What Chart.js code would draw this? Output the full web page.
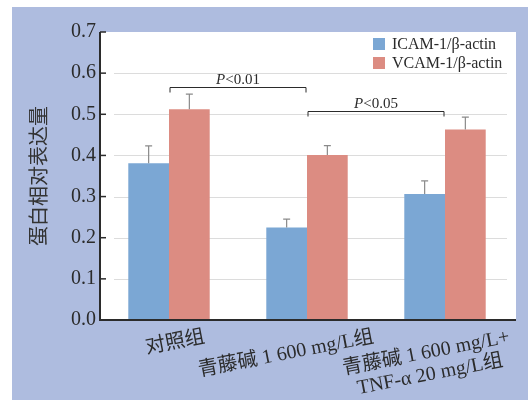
<!DOCTYPE html>
<html>
<head>
<meta charset="utf-8">
<script src="https://cdn.jsdelivr.net/npm/chart.js@4.4.0/dist/chart.umd.min.js"></script>
<style>
  html, body { margin: 0; padding: 0; background: #fff; }
  #wrap { width: 528px; height: 400px; position: relative; }
</style>
</head>
<body>
<div id="wrap"><canvas id="proteinChart"></canvas></div>
<script>
// groups (multi-line labels as arrays)
var groups = [['对照组'], ['青藤碱 1 600 mg/L组'], ['青藤碱 1 600 mg/L+', 'TNF-α 20 mg/L组']];
var seriesNames = ['ICAM-1/β-actin', 'VCAM-1/β-actin'];
var icam = [0.381, 0.225, 0.306];
var icamErr = [0.042, 0.020, 0.032];
var vcam = [0.512, 0.401, 0.463];
var vcamErr = [0.037, 0.023, 0.030];
var yMax = 0.7;
var yStep = 0.1;
// significance brackets
var compPairs = [[0, 1], [1, 2]];
var compLevels = [0.566, 0.508];
var compText = ['<0.01', '<0.05'];

var colors = ['#7ba7d4', '#dc8c82'];
var errs = [icamErr, vcamErr];
var ink = '#2b2b2b';
var serif = "'Liberation Serif', 'Noto Sans CJK SC', serif";

var decor = {
    id: 'decor',
    beforeDraw: function(chart) {
        var ctx = chart.ctx, ca = chart.chartArea, y = chart.scales.y;
        ctx.save();
        ctx.fillStyle = '#fff';
        ctx.fillRect(0, 0, chart.width, chart.height);
        ctx.fillStyle = '#aebcdf';
        ctx.fillRect(12, 7, chart.width - 12, chart.height - 7);
        ctx.fillStyle = '#fff';
        ctx.fillRect(ca.left, ca.top, ca.right - ca.left + 2, ca.bottom - ca.top);
        // grid lines
        ctx.strokeStyle = '#dcdcdc';
        ctx.lineWidth = 1;
        y.ticks.forEach(function(t) {
            if (t.value <= 0 || t.value >= yMax - 1e-9) return;
            var py = Math.round(y.getPixelForValue(t.value)) + 0.5;
            ctx.beginPath();
            ctx.moveTo(ca.left + 14, py);
            ctx.lineTo(ca.right - 7, py);
            ctx.stroke();
        });
        ctx.restore();
    },
    afterDatasetsDraw: function(chart) {
        var ctx = chart.ctx, ca = chart.chartArea, x = chart.scales.x, y = chart.scales.y;
        ctx.save();

        // error bars
        ctx.strokeStyle = '#8a8a8a';
        ctx.lineWidth = 1.2;
        chart.data.datasets.forEach(function(ds, d) {
            var meta = chart.getDatasetMeta(d);
            meta.data.forEach(function(bar, i) {
                var top = y.getPixelForValue(ds.data[i] + errs[d][i]);
                ctx.beginPath();
                ctx.moveTo(bar.x, bar.y);
                ctx.lineTo(bar.x, top);
                ctx.moveTo(bar.x - 3.5, top);
                ctx.lineTo(bar.x + 3.5, top);
                ctx.stroke();
            });
        });

        // axes and inner tick marks
        ctx.strokeStyle = ink;
        ctx.lineWidth = 2;
        ctx.beginPath();
        ctx.moveTo(ca.left, ca.top);
        ctx.lineTo(ca.left, ca.bottom + 1);
        ctx.moveTo(ca.left - 1, ca.bottom);
        ctx.lineTo(ca.right + 2, ca.bottom);
        ctx.stroke();
        ctx.lineWidth = 1.5;
        y.ticks.forEach(function(t) {
            if (t.value <= 0) return;
            var py = y.getPixelForValue(t.value);
            ctx.beginPath();
            ctx.moveTo(ca.left, py);
            ctx.lineTo(ca.left + 6, py);
            ctx.stroke();
        });

        // brackets
        ctx.lineWidth = 1;
        ctx.fillStyle = ink;
        compPairs.forEach(function(p, k) {
            var x1 = x.getPixelForValue(p[0]) + 1, x2 = x.getPixelForValue(p[1]) - 1;
            var py = Math.round(y.getPixelForValue(compLevels[k])) + 0.5;
            ctx.beginPath();
            ctx.moveTo(x1, py + 5);
            ctx.lineTo(x1, py);
            ctx.lineTo(x2, py);
            ctx.lineTo(x2, py + 5);
            ctx.stroke();
            ctx.font = 'italic 15px ' + serif;
            var wP = ctx.measureText('P').width;
            ctx.font = '15px ' + serif;
            var wR = ctx.measureText(compText[k]).width;
            var sx = (x1 + x2) / 2 - (wP + wR) / 2;
            ctx.textAlign = 'left';
            ctx.textBaseline = 'alphabetic';
            ctx.font = 'italic 15px ' + serif;
            ctx.fillText('P', sx, py - 4);
            ctx.font = '15px ' + serif;
            ctx.fillText(compText[k], sx + wP, py - 4);
        });

        // legend
        ctx.font = '16px ' + serif;
        ctx.textBaseline = 'middle';
        seriesNames.forEach(function(name, k) {
            var bx = ca.right - 141, by = ca.top + 6 + k * 19;
            ctx.fillStyle = colors[k];
            ctx.fillRect(bx, by, 12, 12);
            ctx.fillStyle = ink;
            ctx.fillText(name, bx + 19, by + 6.5);
        });

        // rotated category labels
        var th = 11 * Math.PI / 180;
        ctx.font = '20px ' + serif;
        ctx.textAlign = 'center';
        groups.forEach(function(lines, i) {
            var tx = x.getPixelForValue(i);
            var w = Math.max.apply(null, lines.map(function(s) { return ctx.measureText(s).width; }));
            var cx = tx + 20 - 0.23 * w;
            var cy = ca.bottom + 17 + 0.5 * w * Math.sin(th);
            ctx.save();
            ctx.translate(cx, cy);
            ctx.rotate(-th);
            lines.forEach(function(s, j) {
                ctx.fillText(s, 0, j * 22);
            });
            ctx.restore();
        });

        ctx.restore();
    }
};

new Chart('proteinChart', {
    type: 'bar',
    data: {
        labels: groups,
        datasets: [
            { label: seriesNames[0], data: icam, backgroundColor: colors[0], borderWidth: 0 },
            { label: seriesNames[1], data: vcam, backgroundColor: colors[1], borderWidth: 0 }
        ]
    },
    options: {
        responsive: true,
        maintainAspectRatio: false,
        animation: false,
        categoryPercentage: 0.59,
        barPercentage: 1,
        layout: { padding: { top: 32, right: 14, left: 0, bottom: 0 } },
        plugins: { legend: { display: false }, tooltip: { enabled: false } },
        scales: {
            x: {
                grid: { display: false, drawTicks: false },
                border: { display: false },
                ticks: { display: false },
                afterFit: function(s) { s.height = 80; }
            },
            y: {
                min: 0,
                max: yMax,
                grid: { display: false, drawTicks: false },
                border: { display: false },
                ticks: {
                    stepSize: yStep,
                    padding: 4,
                    color: ink,
                    font: { family: serif, size: 20 },
                    callback: function(v) { return v.toFixed(1); }
                },
                title: {
                    display: true,
                    text: '蛋白相对表达量',
                    color: '#333',
                    font: { family: "'Noto Sans CJK SC', sans-serif", size: 20 },
                    padding: { top: 26, bottom: 0 }
                },
                afterFit: function(s) { s.width = 100; }
            }
        }
    },
    plugins: [decor]
});
</script>
</body>
</html>
